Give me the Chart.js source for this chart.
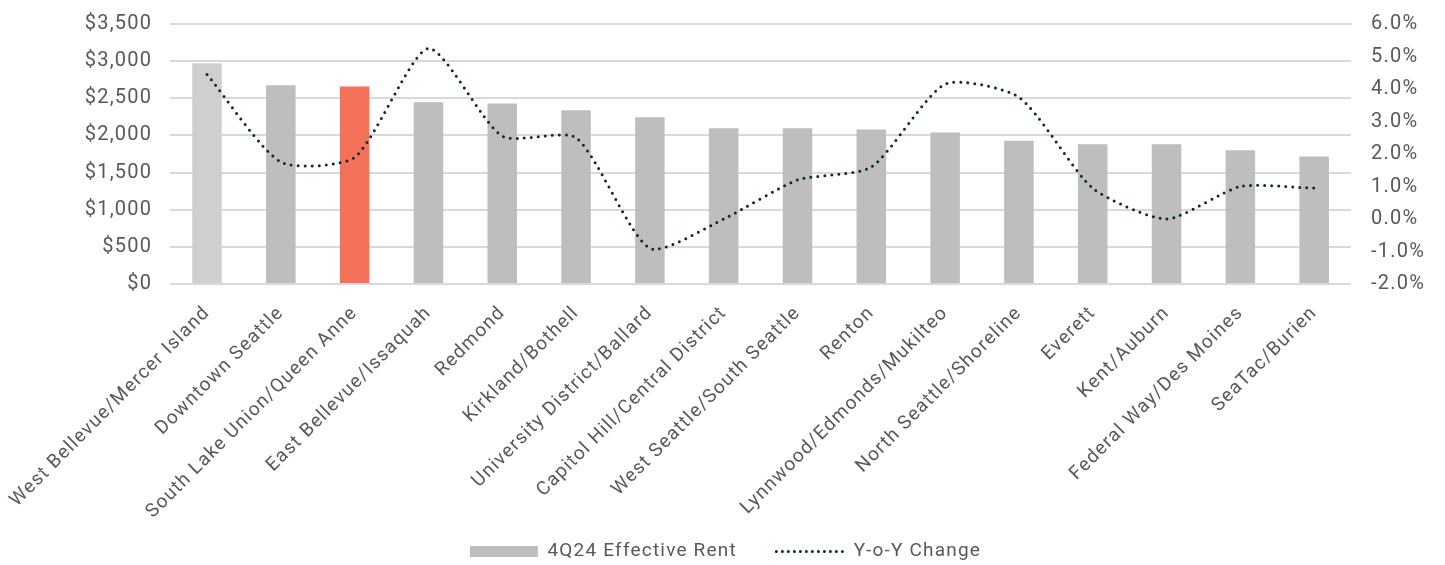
<!DOCTYPE html>
<html>
<head>
<meta charset="utf-8">
<script src="https://cdn.jsdelivr.net/npm/chart.js@4"></script>
<style>
  body { margin: 0; background: #fff; }
  #wrap { width: 1445px; height: 565px; }
</style>
</head>
<body>
<div id="wrap"><canvas id="myChart"></canvas></div>
<script>
const submarkets = ['West Bellevue/Mercer Island', 'Downtown Seattle', 'South Lake Union/Queen Anne',
  'East Bellevue/Issaquah', 'Redmond', 'Kirkland/Bothell', 'University District/Ballard',
  'Capitol Hill/Central District', 'West Seattle/South Seattle', 'Renton',
  'Lynnwood/Edmonds/Mukilteo', 'North Seattle/Shoreline', 'Everett', 'Kent/Auburn',
  'Federal Way/Des Moines', 'SeaTac/Burien'];
const effectiveRent = [2970, 2675, 2660, 2445, 2430, 2340, 2245, 2095, 2095, 2080, 2040, 1930, 1880, 1880, 1800, 1715];
const yoyChange = [4.45, 1.75, 1.9, 5.25, 2.55, 2.5, -0.9, 0.0, 1.2, 1.6, 4.15, 3.75, 0.95, 0.0, 1.0, 0.95];
const rentTicks = { min: 0, max: 3500, step: 500 };
const pctTicks = { min: -2, max: 6, step: 1 };

const barColors = submarkets.map((s, i) => i === 0 ? '#d0cfcf' : (i === 2 ? '#f4715a' : '#bebebe'));
const axisFont = { family: 'Roboto', size: 20 };
const labelFont = { family: 'Roboto', size: 19 };

// the original typeface is set a little wide, so space the letters out
const letterSpacing = {
  id: 'letterSpacing',
  beforeLayout(chart) { chart.ctx.letterSpacing = '1.2px'; },
  beforeDraw(chart) { chart.ctx.letterSpacing = '1.2px'; }
};

const ctx = document.getElementById('myChart');

new Chart(ctx, {
  plugins: [letterSpacing],
  data: {
    labels: submarkets,
    datasets: [{
      type: 'line',
      label: 'Y-o-Y Change',
      data: yoyChange,
      yAxisID: 'y1',
      borderColor: '#0d2a33',
      backgroundColor: 'transparent',
      borderWidth: 3,
      borderDash: [0, 7],
      borderCapStyle: 'round',
      tension: 0.22,
      pointRadius: 0,
      pointStyle: 'line',
      order: 0
    }, {
      type: 'bar',
      label: '4Q24 Effective Rent',
      data: effectiveRent,
      yAxisID: 'y',
      backgroundColor: barColors,
      categoryPercentage: 0.4,
      barPercentage: 1,
      pointStyle: 'rect',
      order: 1
    }]
  },
  options: {
    responsive: true,
    maintainAspectRatio: false,
    animation: false,
    layout: { padding: { top: 2, right: 8, bottom: -6, left: 14 } },
    plugins: {
      tooltip: { enabled: false },
      legend: {
        position: 'bottom',
        reverse: true,
        labels: {
          usePointStyle: true,
          pointStyleWidth: 68,
          boxHeight: 11,
          padding: 4,
          color: '#595959',
          font: { family: 'Roboto', size: 19 },
          generateLabels(chart) {
            const items = Chart.defaults.plugins.legend.labels.generateLabels(chart);
            items.forEach(it => {
              if (it.text === '4Q24 Effective Rent') {
                it.text += '      ';
                it.fillStyle = '#bebebe'; it.strokeStyle = '#bebebe'; it.lineWidth = 0;
              } else {
                it.strokeStyle = '#0d2a33'; it.lineWidth = 3; it.lineDash = [0, 6]; it.lineCap = 'round';
              }
            });
            return items;
          }
        }
      }
    },
    scales: {
      x: {
        grid: { display: false },
        border: { display: false },
        ticks: { color: '#595959', font: labelFont, minRotation: 45, maxRotation: 45, autoSkip: false, padding: 10 },
        afterFit(scale) { scale.height = 254; }
      },
      y: {
        position: 'left',
        min: rentTicks.min,
        max: rentTicks.max,
        grid: { color: '#d9d9d9', lineWidth: 2, drawTicks: true, tickLength: 6, tickColor: 'transparent' },
        border: { display: false },
        ticks: {
          stepSize: rentTicks.step,
          color: '#595959',
          font: axisFont,
          padding: 12,
          callback: v => '$' + v.toLocaleString('en-US')
        }
      },
      y1: {
        position: 'right',
        min: pctTicks.min,
        max: pctTicks.max,
        grid: { display: false, drawTicks: true, tickLength: 8, tickColor: 'transparent' },
        border: { display: false },
        ticks: {
          stepSize: pctTicks.step,
          color: '#595959',
          font: axisFont,
          padding: 12,
          callback: v => v.toFixed(1) + '%'
        }
      }
    }
  }
});
</script>
</body>
</html>
